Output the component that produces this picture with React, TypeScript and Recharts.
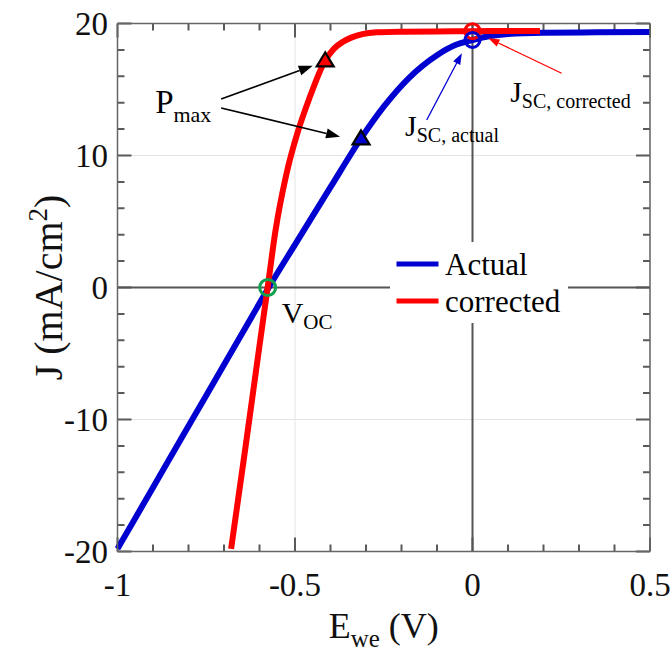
import {
  ComposedChart, Line, Scatter, XAxis, YAxis, CartesianGrid,
  ReferenceLine, ReferenceDot, Legend,
} from "recharts";

// J-V sweep, E_we in V, J in mA/cm2
const actualE = [-1, -0.9, -0.8, -0.7, -0.6, -0.574, -0.5, -0.4, -0.314, -0.25, -0.18, -0.1, -0.05, 0, 0.05, 0.1, 0.2, 0.35, 0.5];
const actualJ = [-19.8, -15.15, -10.5, -5.85, -1.2, 0, 3.25, 7.6, 11.3, 13.7, 15.85, 17.6, 18.35, 18.75, 19.05, 19.2, 19.3, 19.33, 19.35];

const correctedE = [-0.68, -0.66, -0.64, -0.62, -0.6, -0.577, -0.555, -0.525, -0.492, -0.46, -0.415, -0.39, -0.366, -0.34, -0.31, -0.27, -0.2, -0.1, 0, 0.1, 0.19];
const correctedJ = [-19.8, -16.0, -12.2, -8.3, -4.4, 0, 4.3, 8.5, 11.8, 14.3, 17.2, 18.1, 18.6, 18.95, 19.2, 19.33, 19.38, 19.4, 19.42, 19.43, 19.44];

// maximum power points
const pmaxE = [-0.415, -0.314];
const pmaxJ = [17.2, 11.3];
// short-circuit points
const jscE = [0, 0];
const jscJ = [19.42, 18.75];
// open-circuit point
const vocE = [-0.577];
const vocJ = [0];

const eTicks = [-1, -0.9, -0.8, -0.7, -0.6, -0.5, -0.4, -0.3, -0.2, -0.1, 0, 0.1, 0.2, 0.3, 0.4, 0.5];
const jTicks = [-20, -18, -16, -14, -12, -10, -8, -6, -4, -2, 0, 2, 4, 6, 8, 10, 12, 14, 16, 18, 20];
const eGrid = [-1, -0.5, 0, 0.5];
const jGrid = [-20, -10, 0, 10, 20];

const toRows = (es: number[], js: number[]) => es.map((e, i) => ({ e, j: js[i] }));
const actualRows = toRows(actualE, actualJ);
const correctedRows = toRows(correctedE, correctedJ);
const pmaxRows = toRows(pmaxE, pmaxJ);
const jscRows = toRows(jscE, jscJ);
const vocRows = toRows(vocE, vocJ);

const FONT = '"Liberation Serif", "Times New Roman", serif';
const FRAME = "#666666";
const TICK = "#5a5a5a";
const BLUE = "#0000d0";
const RED = "#ff0000";
const GREEN = "#10a050";

const isMajor = (v: number, step: number) => Math.abs(v / step - Math.round(v / step)) < 1e-6;
const fmt = (v: number) => (Math.abs(v) < 1e-9 ? "0" : String(v));

// tick labels only; the inward tick marks are drawn as reference lines
function BottomLabel({ x, y, payload }: any) {
  if (!isMajor(payload.value, 0.5)) return <g />;
  return (
    <text x={x} y={y + 44} textAnchor="middle" fontFamily={FONT} fontSize={33} fill="#111">
      {fmt(payload.value)}
    </text>
  );
}

function LeftLabel({ x, y, payload }: any) {
  if (!isMajor(payload.value, 10)) return <g />;
  return (
    <text x={x - 9.5} y={y + 11.5} textAnchor="end" fontFamily={FONT} fontSize={33} fill="#111">
      {fmt(payload.value)}
    </text>
  );
}

// vertical reference line -> short marks at the bottom and top of the box
const xMark = (len: number) => (p: any) => {
  const top = Math.min(p.y1, p.y2);
  const bot = Math.max(p.y1, p.y2);
  const d = `M${p.x1},${top}v${len}M${p.x1},${bot}v${-len}`;
  return <path d={d} stroke={TICK} strokeWidth={2} fill="none" />;
};

// horizontal reference line -> short marks at the left and right of the box
const yMark = (len: number) => (p: any) => {
  const left = Math.min(p.x1, p.x2);
  const right = Math.max(p.x1, p.x2);
  const d = `M${left},${p.y1}h${len}M${right},${p.y1}h${-len}`;
  return <path d={d} stroke={TICK} strokeWidth={2} fill="none" />;
};

function XTitle({ viewBox }: any) {
  const cx = viewBox.x + viewBox.width / 2;
  return (
    <text x={cx} y={viewBox.y + 86.5} textAnchor="middle" fontFamily={FONT} fontSize={36} fill="#111">
      E<tspan fontSize={25} dy={9}>we</tspan><tspan dy={-9}> (V)</tspan>
    </text>
  );
}

function YTitle({ viewBox }: any) {
  const cx = 62;
  const cy = viewBox.y + viewBox.height / 2;
  return (
    <text x={cx} y={cy} transform={`rotate(-90, ${cx}, ${cy})`} textAnchor="middle"
      fontFamily={FONT} fontSize={40} fill="#111">
      J (mA/cm<tspan fontSize={27} dy={-15}>2</tspan><tspan dy={15}>)</tspan>
    </text>
  );
}

const triangle = (fill: string) => ({ cx, cy }: any) => (
  <polygon points={`${cx},${cy - 8} ${cx - 8.5},${cy + 6} ${cx + 8.5},${cy + 6}`}
    fill={fill} stroke="#000" strokeWidth={2.2} strokeLinejoin="miter" />
);

const ring = (color: string, r: number) => ({ cx, cy }: any) => (
  <circle cx={cx} cy={cy} r={r} fill="none" stroke={color} strokeWidth={3} />
);

const arrow = (color: string, width: number, head: number) => ({ x1, y1, x2, y2 }: any) => {
  const a = Math.atan2(y2 - y1, x2 - x1);
  const bx = x2 - head * Math.cos(a);
  const by = y2 - head * Math.sin(a);
  const nx = -Math.sin(a) * head * 0.36;
  const ny = Math.cos(a) * head * 0.36;
  return (
    <g>
      <line x1={x1} y1={y1} x2={bx} y2={by} stroke={color} strokeWidth={width} />
      <polygon points={`${x2},${y2} ${bx + nx},${by + ny} ${bx - nx},${by - ny}`} fill={color} />
    </g>
  );
};

const subText = (main: string, sub: string, size: number, subSize: number, drop: number) =>
  ({ cx, cy }: any) => (
    <text x={cx} y={cy} fontFamily={FONT} fontSize={size} fill="#000">
      {main}<tspan fontSize={subSize} dy={drop}>{sub}</tspan>
    </text>
  );

function LegendBox({ payload }: any) {
  const items = (payload ?? []).filter((p: any) => p.type !== "none");
  return (
    <svg width={178} height={81} style={{ display: "block", background: "#fff" }}>
      {items.map((it: any, i: number) => (
        <g key={it.value}>
          <line x1={6.5} x2={48.5} y1={22 + i * 37} y2={22 + i * 37} stroke={it.color} strokeWidth={5} />
          <text x={55} y={33 + i * 36.7} fontFamily={FONT} fontSize={31} fill="#000">{it.value}</text>
        </g>
      ))}
    </svg>
  );
}

export default function App() {
  return (
    <div style={{ position: "absolute", left: 0, top: 0, width: 670, height: 653, background: "#fff", fontFamily: FONT }}>
      <ComposedChart width={670} height={653} margin={{ top: 0, right: 0, bottom: 0, left: 0 }}>
        <CartesianGrid stroke="#e4e4e4" strokeWidth={1} verticalValues={eGrid} horizontalValues={jGrid} />
        <XAxis xAxisId={0} dataKey="e" type="number" domain={[-1, 0.5]} ticks={eTicks} interval={0}
          height={101.5} tickSize={0} tickMargin={0} tickLine={false} tick={<BottomLabel />}
          axisLine={{ stroke: FRAME, strokeWidth: 1.5 }} label={{ content: <XTitle /> }} />
        <XAxis xAxisId="top" orientation="top" dataKey="e" type="number" domain={[-1, 0.5]}
          height={23.5} tick={false} tickLine={false} axisLine={{ stroke: FRAME, strokeWidth: 1.5 }} />
        <YAxis yAxisId={0} type="number" domain={[-20, 20]} ticks={jTicks} interval={0} width={117.5}
          tickSize={0} tickMargin={0} tickLine={false} tick={<LeftLabel />}
          axisLine={{ stroke: FRAME, strokeWidth: 1.5 }} label={{ content: <YTitle /> }} />
        <YAxis yAxisId="right" orientation="right" type="number" domain={[-20, 20]}
          width={20} tick={false} tickLine={false} axisLine={{ stroke: FRAME, strokeWidth: 1.5 }} />

        {eTicks.map((e) => (
          <ReferenceLine key={`xt${e}`} x={e} stroke={TICK} shape={xMark(isMajor(e, 0.5) ? 14 : 7)} />
        ))}
        {jTicks.map((j) => (
          <ReferenceLine key={`yt${j}`} y={j} stroke={TICK} shape={yMark(isMajor(j, 10) ? 14 : 7)} />
        ))}

        <ReferenceLine x={0} stroke="#555" strokeWidth={2} />
        <ReferenceLine y={0} stroke="#555" strokeWidth={2} />

        <Line data={actualRows} dataKey="j" name="Actual" type="monotone" stroke={BLUE}
          strokeWidth={6} dot={false} activeDot={false} isAnimationActive={false} />
        <Line data={correctedRows} dataKey="j" name="corrected" type="monotone" stroke={RED}
          strokeWidth={6} dot={false} activeDot={false} isAnimationActive={false} />

        <Scatter data={pmaxRows.slice(0, 1)} dataKey="j" legendType="none" shape={triangle(RED)} isAnimationActive={false} />
        <Scatter data={pmaxRows.slice(1)} dataKey="j" legendType="none" shape={triangle(BLUE)} isAnimationActive={false} />
        <Scatter data={jscRows.slice(0, 1)} dataKey="j" legendType="none" shape={ring(RED, 7.5)} isAnimationActive={false} />
        <Scatter data={jscRows.slice(1)} dataKey="j" legendType="none" shape={ring(BLUE, 7.5)} isAnimationActive={false} />
        <Scatter data={vocRows} dataKey="j" legendType="none" shape={ring(GREEN, 8)} isAnimationActive={false} />

        <ReferenceLine segment={[{ x: -0.708, y: 14.28 }, { x: -0.45, y: 16.8 }]} shape={arrow("#000", 1.6, 14)} />
        <ReferenceLine segment={[{ x: -0.708, y: 13.6 }, { x: -0.373, y: 11.42 }]} shape={arrow("#000", 1.6, 14)} />
        <ReferenceLine segment={[{ x: -0.129, y: 12.69 }, { x: -0.03, y: 17.74 }]} shape={arrow(BLUE, 1.3, 11)} />
        <ReferenceLine segment={[{ x: 0.251, y: 16.23 }, { x: 0.045, y: 18.88 }]} shape={arrow(RED, 1.3, 11)} />

        <ReferenceDot x={-0.894} y={13.22} shape={subText("P", "max", 33, 22, 9)} />
        <ReferenceDot x={-0.19} y={11.5} shape={subText("J", "SC, actual", 30, 20, 6)} />
        <ReferenceDot x={0.106} y={14.08} shape={subText("J", "SC, corrected", 30, 20, 6)} />
        <ReferenceDot x={-0.5375} y={-2.71} shape={subText("V", "OC", 30, 21, 6)} />

        <Legend layout="vertical" align="center" verticalAlign="middle" content={<LegendBox />}
          wrapperStyle={{ left: 390, top: 242, width: 178, height: 81, background: "#fff" }} />
      </ComposedChart>
    </div>
  );
}
